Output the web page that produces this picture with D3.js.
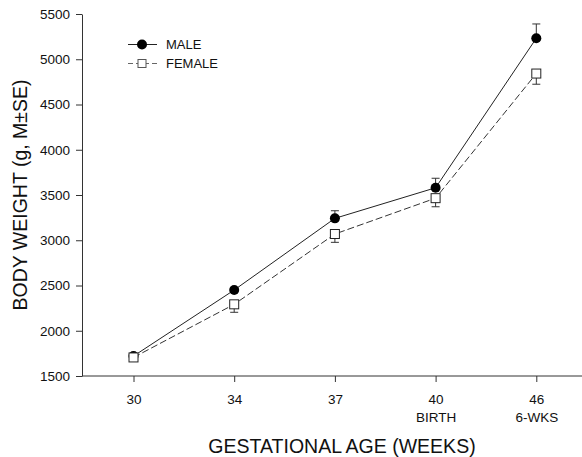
<!DOCTYPE html>
<html>
<head>
<meta charset="utf-8">
<script src="https://cdn.jsdelivr.net/npm/d3@7"></script>
<style>
  body { margin: 0; background: #fff; }
  svg { display: block; font-family: 'Liberation Sans', Arial, sans-serif; }
</style>
</head>
<body>
<svg id="chart" width="582" height="457"></svg>
<script>
const ages = ['30', '34', '37', '40', '46'];
const subLabels = ['', '', '', 'BIRTH', '6-WKS'];
const maleMean = [1720, 2450, 3242, 3580, 5232];
const maleSE = [20, 25, 84, 105, 158];
const femaleMean = [1705, 2292, 3069, 3465, 4842];
const femaleSE = [20, 88, 92, 95, 118];
const yTicks = [1500, 2000, 2500, 3000, 3500, 4000, 4500, 5000, 5500];

const width = 582, height = 457;
const plotLeft = 82, plotTop = 14, plotBottom = 376;
const tickFont = 13.5;

const svg = d3.select('#chart');

const x = d3.scalePoint().domain(ages).range([133.5, 536.3]);
const y = d3.scaleLinear().domain([1500, 5500]).range([plotBottom, plotTop]);

// y axis
const yAxis = svg.append('g')
    .attr('transform', `translate(${plotLeft},0)`)
    .call(d3.axisLeft(y).tickValues(yTicks).tickFormat(d3.format('d'))
        .tickSize(6).tickSizeOuter(0).tickPadding(6));
yAxis.select('.domain').attr('stroke', '#333');
yAxis.selectAll('.tick line').attr('stroke', '#333');
yAxis.selectAll('.tick text').attr('font-size', tickFont).attr('fill', '#111')
    .attr('font-family', 'Liberation Sans, Arial, sans-serif');

// x axis
const xAxis = svg.append('g')
    .attr('transform', `translate(0,${plotBottom})`)
    .call(d3.axisBottom(x).tickSize(6).tickSizeOuter(0).tickPadding(12));
xAxis.select('.domain').remove();
xAxis.selectAll('.tick line').attr('stroke', '#333');
xAxis.selectAll('.tick text').attr('font-size', tickFont).attr('fill', '#111')
    .attr('font-family', 'Liberation Sans, Arial, sans-serif');
xAxis.append('line')
    .attr('x1', plotLeft).attr('x2', width)
    .attr('stroke', '#333');
xAxis.selectAll('.tick').append('text')
    .attr('y', 46)
    .attr('text-anchor', 'middle')
    .attr('fill', '#111')
    .attr('font-size', tickFont)
    .attr('font-family', 'Liberation Sans, Arial, sans-serif')
    .text((d, i) => subLabels[i]);

// titles
svg.append('text')
    .attr('x', 342).attr('y', 453)
    .attr('text-anchor', 'middle')
    .attr('font-size', 19.5)
    .attr('fill', '#111')
    .text('GESTATIONAL AGE (WEEKS)');
svg.append('text')
    .attr('transform', 'translate(27,195) rotate(-90)')
    .attr('text-anchor', 'middle')
    .attr('font-size', 19.5)
    .attr('fill', '#111')
    .text('BODY WEIGHT (g, M\u00b1SE)');

const line = d3.line().x((d, i) => x(ages[i])).y(d => y(d));

// female series
svg.append('path')
    .attr('d', line(femaleMean))
    .attr('fill', 'none')
    .attr('stroke', '#333')
    .attr('stroke-width', 1)
    .attr('stroke-dasharray', '7,3');
const fErr = svg.append('g').selectAll('g').data(femaleMean).enter().append('g');
fErr.append('line')
    .attr('x1', (d, i) => x(ages[i])).attr('x2', (d, i) => x(ages[i]))
    .attr('y1', d => y(d)).attr('y2', (d, i) => y(d - femaleSE[i]))
    .attr('stroke', '#333');
fErr.append('line')
    .attr('x1', (d, i) => x(ages[i]) - 4).attr('x2', (d, i) => x(ages[i]) + 4)
    .attr('y1', (d, i) => y(d - femaleSE[i])).attr('y2', (d, i) => y(d - femaleSE[i]))
    .attr('stroke', '#333');

// male series
svg.append('path')
    .attr('d', line(maleMean))
    .attr('fill', 'none')
    .attr('stroke', '#222')
    .attr('stroke-width', 1);
const mErr = svg.append('g').selectAll('g').data(maleMean).enter().append('g');
mErr.append('line')
    .attr('x1', (d, i) => x(ages[i])).attr('x2', (d, i) => x(ages[i]))
    .attr('y1', d => y(d)).attr('y2', (d, i) => y(d + maleSE[i]))
    .attr('stroke', '#333');
mErr.append('line')
    .attr('x1', (d, i) => x(ages[i]) - 4).attr('x2', (d, i) => x(ages[i]) + 4)
    .attr('y1', (d, i) => y(d + maleSE[i])).attr('y2', (d, i) => y(d + maleSE[i]))
    .attr('stroke', '#333');

svg.append('g').selectAll('circle').data(maleMean).enter().append('circle')
    .attr('cx', (d, i) => x(ages[i]))
    .attr('cy', d => y(d))
    .attr('r', 5)
    .attr('fill', '#000');

svg.append('g').selectAll('rect').data(femaleMean).enter().append('rect')
    .attr('x', (d, i) => x(ages[i]) - 4.5)
    .attr('y', d => y(d) - 4.5)
    .attr('width', 9).attr('height', 9)
    .attr('fill', '#fff')
    .attr('stroke', '#222')
    .attr('stroke-width', 1);

// legend
const legend = svg.append('g');
legend.append('line').attr('x1', 128).attr('x2', 157).attr('y1', 44.5).attr('y2', 44.5)
    .attr('stroke', '#222');
legend.append('circle').attr('cx', 142).attr('cy', 44.5).attr('r', 5).attr('fill', '#000');
legend.append('text').attr('x', 166).attr('y', 49).attr('font-size', 13).attr('fill', '#111').text('MALE');
legend.append('line').attr('x1', 128).attr('x2', 157).attr('y1', 63.5).attr('y2', 63.5)
    .attr('stroke', '#666').attr('stroke-dasharray', '5,3');
legend.append('rect').attr('x', 138).attr('y', 59.5).attr('width', 8).attr('height', 8)
    .attr('fill', '#fff').attr('stroke', '#555');
legend.append('text').attr('x', 166).attr('y', 68).attr('font-size', 13).attr('fill', '#111').text('FEMALE');
</script>
</body>
</html>
